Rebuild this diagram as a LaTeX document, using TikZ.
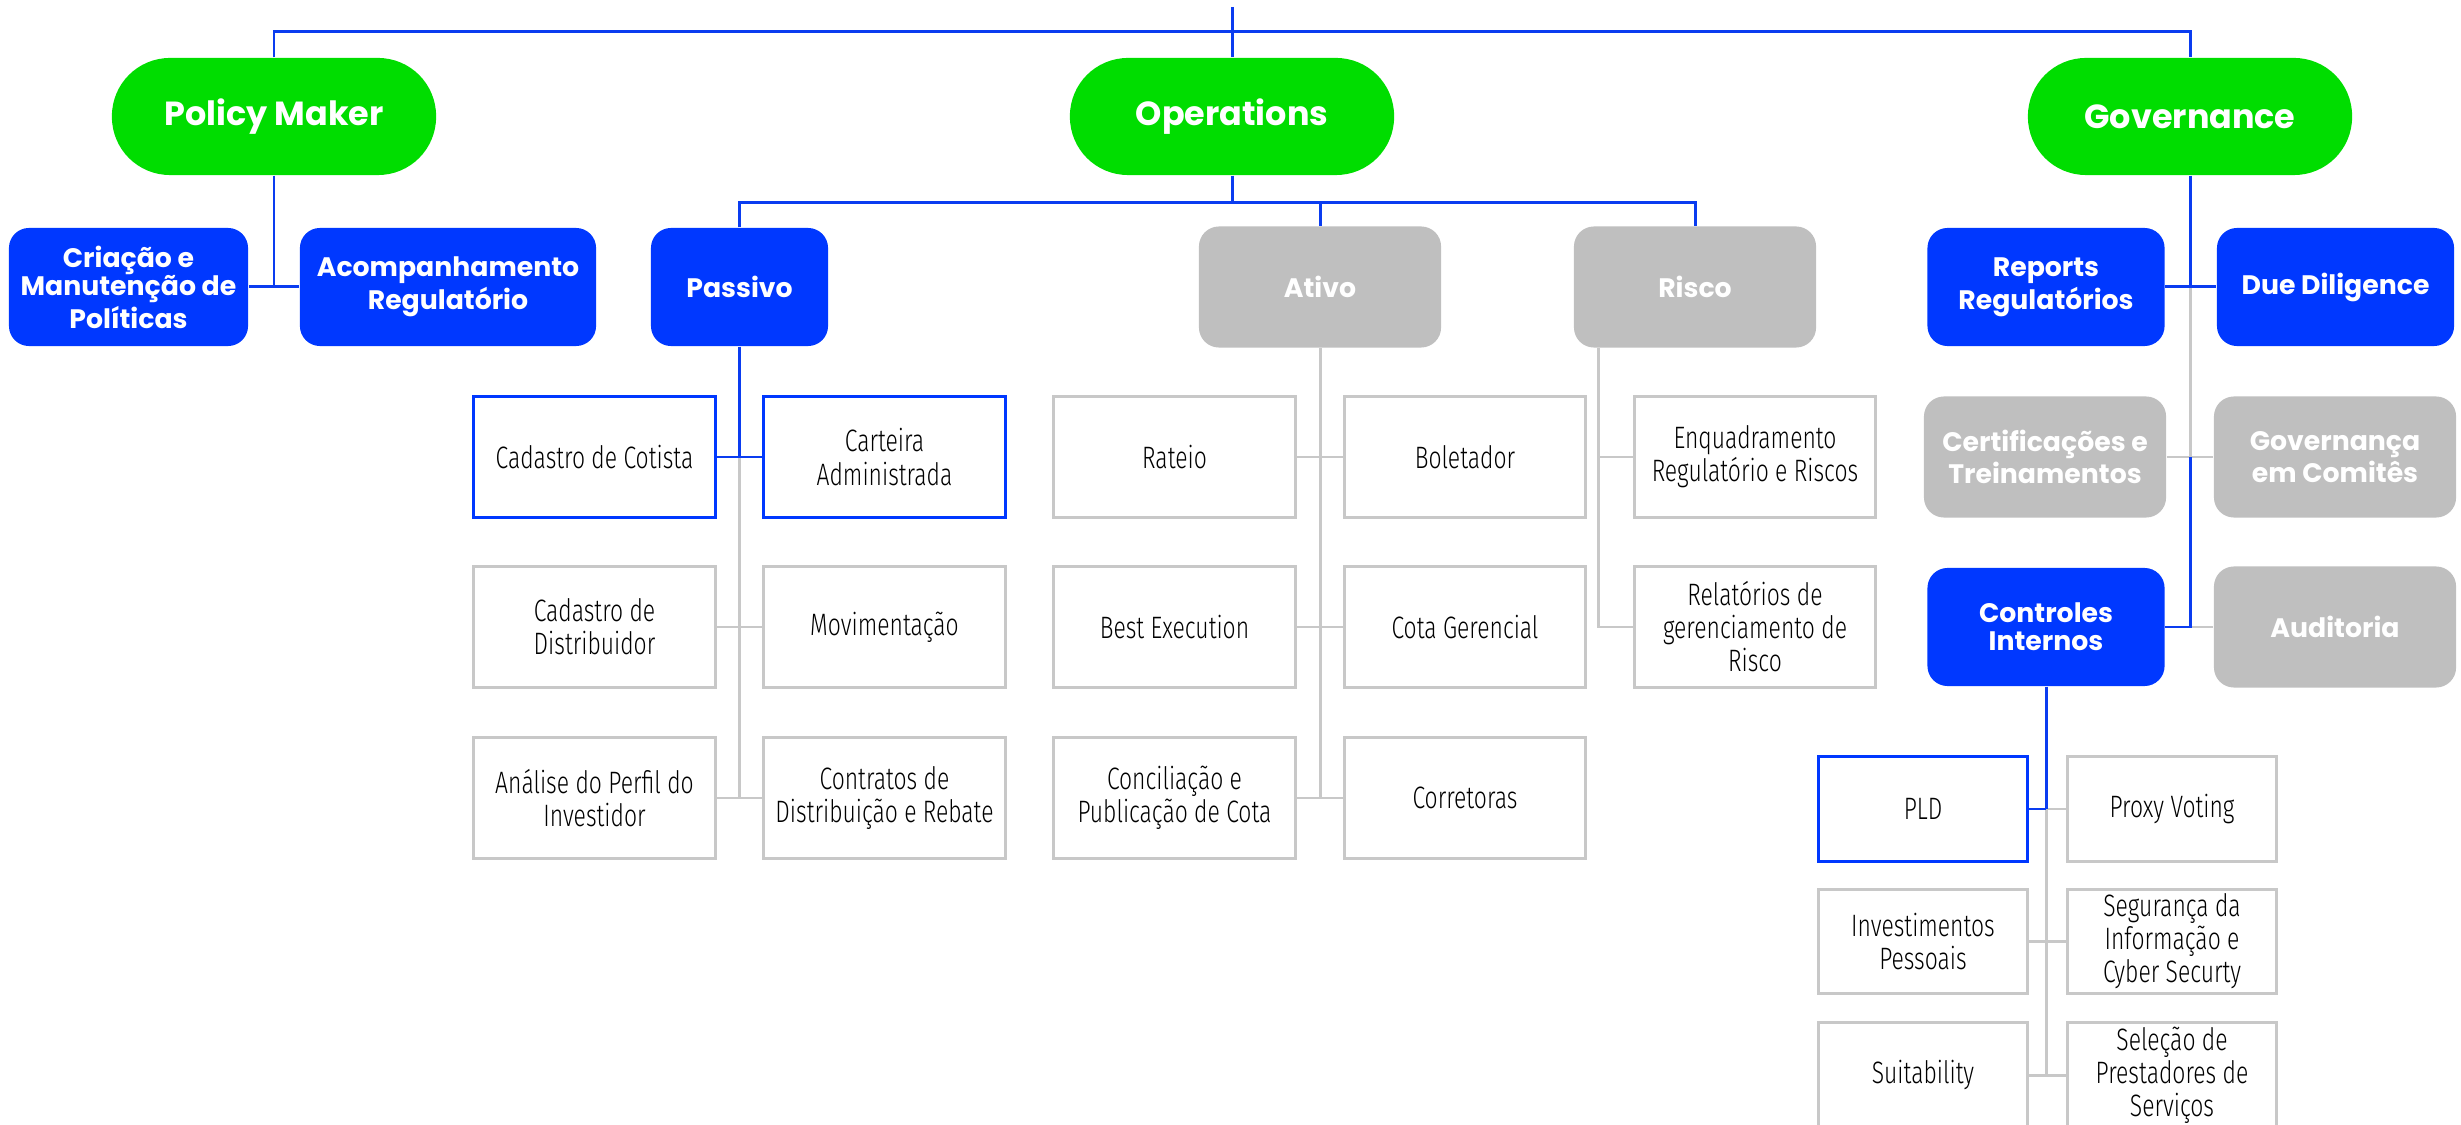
\documentclass[tikz,border=0pt]{standalone}
\usepackage{fontspec}
\setmainfont{Poppins}
\newfontfamily\thinfont{Fira Sans Light}[FakeStretch=0.74]
\definecolor{pgreen}{RGB}{0,221,0}
\definecolor{pblue}{RGB}{0,56,255}
\definecolor{pgrey}{RGB}{191,191,191}
\definecolor{lgrey}{RGB}{200,200,200}
\definecolor{lineblue}{RGB}{10,60,240}

\begin{document}
\begin{tikzpicture}[x=0.01cm, y=-0.01cm,
    pill/.style={fill=pgreen, text=white, rounded corners=0.58cm, minimum width=3.24cm, minimum height=1.17cm, font=\fontsize{9.5}{11}\selectfont\bfseries},
    bluebox/.style={fill=pblue, text=white, rounded corners=0.2cm, minimum width=2.37cm, minimum height=1.18cm, align=center, font=\fontsize{7.6}{8}\selectfont\bfseries},
    greybox/.style={bluebox, fill=pgrey, minimum width=2.42cm, minimum height=1.21cm},
    item/.style={draw=lgrey, line width=0.85pt, minimum width=2.41cm, minimum height=1.2cm, inner sep=1pt, align=center, text=black, font=\thinfont\fontsize{8.8}{9.4}\selectfont},
    itemsel/.style={item, draw=pblue},
    small/.style={minimum width=2.08cm, minimum height=1.04cm},
    bline/.style={draw=lineblue, line width=0.85pt},
    gline/.style={draw=lgrey, line width=0.85pt}]
    \useasboundingbox (0,0) rectangle (2461,1125);

    \node [pill] (pm) at (274,116.5) {Policy Maker};
    \node [pill] (ops) at (1232,116.5) {Operations};
    \node [pill] (gov) at (2190,116.5) {Governance};

    \node [bluebox] (crm) at (128.5,287) {Criação e\\Manutenção de\\Políticas};
    \node [bluebox, minimum width=2.96cm] (acomp) at (448,287) {Acompanhamento\\Regulatório};

    \node [bluebox, minimum width=1.77cm] (pas) at (739.5,287) {Passivo};
    \node [greybox] (ativo) at (1320,287) {Ativo};
    \node [greybox] (risco) at (1695,287) {Risco};

    \node [bluebox] (rep) at (2046,287) {Reports\\Regulatórios};
    \node [bluebox] (due) at (2335.5,287) {Due Diligence};
    \node [greybox] (cert) at (2045,457) {Certificações e\\Treinamentos};
    \node [greybox] (gcom) at (2335,457) {Governança\\em Comitês};
    \node [bluebox] (ctrl) at (2046,627) {Controles\\Internos};
    \node [greybox] (aud) at (2335,627) {Auditoria};

    \node [itemsel] (cot) at (594.5,457) {Cadastro de Cotista};
    \node [itemsel] (cart) at (884.5,457) {Carteira\\Administrada};
    \node [item] (dist) at (594.5,627) {Cadastro de\\Distribuidor};
    \node [item] (mov) at (884.5,627) {Movimentação};
    \node [item] (ana) at (594.5,798) {Análise do Perfil do\\Investidor};
    \node [item] (contr) at (884.5,798) {Contratos de\\Distribuição e Rebate};

    \node [item] (rat) at (1174.5,457) {Rateio};
    \node [item] (bol) at (1465,457) {Boletador};
    \node [item] (best) at (1174.5,627) {Best Execution};
    \node [item] (cger) at (1465,627) {Cota Gerencial};
    \node [item] (conc) at (1174.5,798) {Conciliação e\\Publicação de Cota};
    \node [item] (corr) at (1465,798) {Corretoras};

    \node [item] (enq) at (1755,457) {Enquadramento\\Regulatório e Riscos};
    \node [item] (rel) at (1755,627) {Relatórios de\\gerenciamento de\\Risco};

    \node [itemsel, small] (pld) at (1923,809) {PLD};
    \node [item, small] (proxy) at (2172,809) {Proxy Voting};
    \node [item, small] (inv) at (1923,941.5) {Investimentos\\Pessoais};
    \node [item, small] (seg) at (2172,941.5) {Segurança da\\Informação e\\Cyber Securty};
    \node [item, small] (suit) at (1923,1075) {Suitability};
    \node [item, small] (sel) at (2172,1075) {Seleção de\\Prestadores de\\Serviços};

    \coordinate (root) at (1232,7);
    \coordinate (bar) at (1232,32);
    \draw [bline] (root) -- (ops.north);
    \draw [bline] (pm.north) |- (bar) -| (gov.north);

    \draw [bline] (pm.south) -- (pm.south |- crm.east);
    \draw [bline] (crm.east) -- (acomp.west);

    \draw [bline] (ops.south) -- ++(0,27) coordinate (opsbar);
    \draw [bline] (pas.north) |- (opsbar) -| (risco.north);
    \draw [bline] (ativo.north) -- (ativo.north |- opsbar);

    \draw [gline] (pas.south |- cot.east) -- (pas.south |- ana.east);
    \draw [gline] (dist.east) -- (mov.west);
    \draw [gline] (ana.east) -- (contr.west);
    \draw [bline] (pas.south) -- (pas.south |- cot.east);
    \draw [bline] (cot.east) -- (cart.west);

    \draw [gline] (ativo.south) -- (ativo.south |- conc.east);
    \draw [gline] (rat.east) -- (bol.west);
    \draw [gline] (best.east) -- (cger.west);
    \draw [gline] (conc.east) -- (corr.west);

    \coordinate (rj) at ([xshift=0.25cm]risco.south west);
    \draw [gline] (rj) |- (rel.west);
    \draw [gline] (rj |- enq.west) -- (enq.west);

    \draw [gline] (gov.south |- rep.east) -- (gov.south |- cert.east);
    \draw [gline] (cert.east) -- (gcom.west);
    \draw [gline] (gov.south |- aud.west) -- (aud.west);
    \draw [bline] (gov.south) -- (gov.south |- rep.east);
    \draw [bline] (rep.east) -- (due.west);
    \draw [bline] (gov.south |- cert.east) |- (ctrl.east);

    \draw [gline] (ctrl.south |- pld.east) -- (ctrl.south |- suit.east);
    \draw [gline] (ctrl.south |- pld.east) -- (proxy.west);
    \draw [gline] (inv.east) -- (seg.west);
    \draw [gline] (suit.east) -- (sel.west);
    \draw [bline] (ctrl.south) -- (ctrl.south |- pld.east);
    \draw [bline] (pld.east) -- (ctrl.south |- pld.east);
  \end{tikzpicture}
\end{document}
